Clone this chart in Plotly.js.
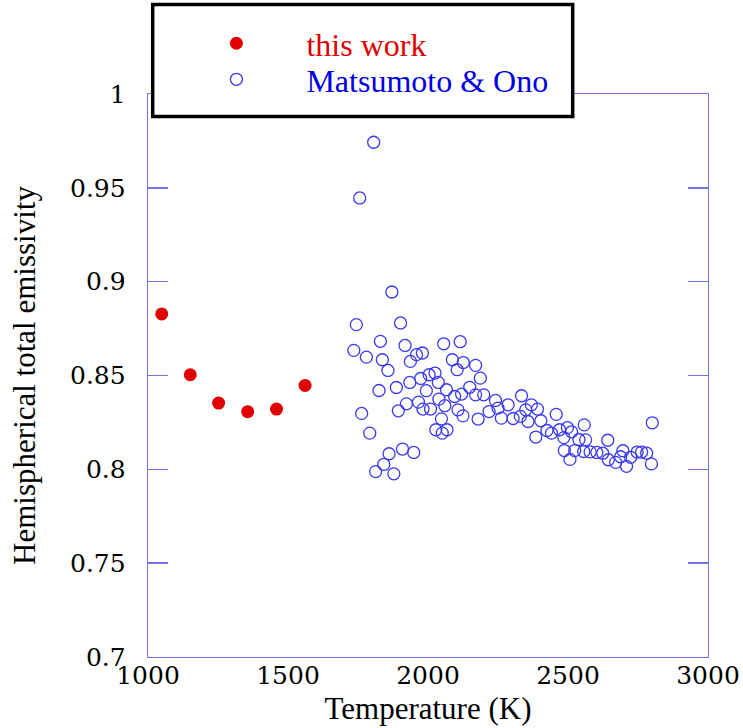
<!DOCTYPE html>
<html>
<head>
<meta charset="utf-8">
<script src="https://cdn.plot.ly/plotly-3.0.1.min.js"></script>
<style>
html, body { margin: 0; padding: 0; background: #ffffff; }
#chart { width: 743px; height: 728px; }
</style>
</head>
<body>
<div id="chart"></div>
<script>
// ---- data ----
const thisWorkT = [1049, 1151, 1252, 1356, 1459, 1561];
const thisWorkE = [0.8828, 0.8504, 0.8353, 0.8307, 0.8321, 0.8447];

const moT = [
  1806, 1756, 1871,
  1744, 1902, 1830, 1735, 1780, 1918, 1837, 1857, 1937, 1959, 1980, 2056, 2115, 2087, 2126, 2104,
  1825, 1887, 1935, 1974, 2004, 2025, 2037, 1994, 2066, 2095, 2120, 2149,
  1763, 1923, 1894, 1966, 1982, 2009, 2039, 2060, 2107, 2125, 2048,
  1792, 2028, 2068, 2051, 1909, 1949, 1861, 1842, 1813, 1878,
  2170, 2187, 2170, 2199, 2179, 2218, 2241, 2250, 2286, 2262, 2304, 2330, 2334, 2369, 2349, 2391,
  2357, 2403, 2458, 2385, 2425, 2441, 2470, 2498, 2485, 2513, 2539, 2487, 2524, 2507,
  2558, 2563, 2642, 2556, 2579, 2603, 2624, 2644, 2670, 2688, 2696, 2709, 2724, 2747, 2763, 2781,
  2798, 2801
];
const moE = [
  0.9743, 0.9446, 0.8945,
  0.8771, 0.8780, 0.8682, 0.8634, 0.8598, 0.8660, 0.8584, 0.8527, 0.8575, 0.8611, 0.8620, 0.8669, 0.8680, 0.8584, 0.8569, 0.8531,
  0.8420, 0.8436, 0.8463, 0.8484, 0.8504, 0.8513, 0.8463, 0.8419, 0.8424, 0.8388, 0.8401, 0.8437,
  0.8298, 0.8349, 0.8312, 0.8358, 0.8321, 0.8321, 0.8374, 0.8339, 0.8317, 0.8285, 0.8269,
  0.8193, 0.8211, 0.8211, 0.8193, 0.8108, 0.8090, 0.8083, 0.8026, 0.7988, 0.7976,
  0.8554, 0.8486, 0.8397, 0.8397, 0.8268, 0.8308, 0.8367, 0.8326, 0.8344, 0.8273, 0.8271, 0.8282, 0.8392, 0.8344, 0.8317, 0.8321,
  0.8255, 0.8259, 0.8293, 0.8172, 0.8207, 0.8193, 0.8211, 0.8222, 0.8169, 0.8200, 0.8159, 0.8100, 0.8100, 0.8053,
  0.8237, 0.8157, 0.8155, 0.8095, 0.8093, 0.8090, 0.8086, 0.8051, 0.8037, 0.8067, 0.8099, 0.8016, 0.8064, 0.8092, 0.8092, 0.8086,
  0.8029, 0.8248
];

const xTickVals = [1000, 1500, 2000, 2500, 3000];
const xTickText = ['1000', '1500', '2000', '2500', '3000'];
const yTickVals = [0.7, 0.75, 0.8, 0.85, 0.9, 0.95, 1.0];
const yTickText = ['0.7', '0.75', '0.8', '0.85', '0.9', '0.95', '1'];

const seriesNames = ['this work', 'Matsumoto &amp; Ono'];

// ---- styles ----
const FONT = 'Liberation Serif';
const TICK_FONT = 'DejaVu Serif';
const AXIS_COLOR = '#7474ec';
const RED = '#e00000';
const BLUE = '#0000e0';

const traces = [
  {
    x: thisWorkT, y: thisWorkE, type: 'scatter', mode: 'markers',
    name: '<span style="color:' + RED + '">' + seriesNames[0] + '</span>',
    marker: { symbol: 'circle', size: 13, color: RED },
    legend: 'legend', cliponaxis: false
  },
  {
    x: moT, y: moE, type: 'scatter', mode: 'markers',
    name: '<span style="color:' + BLUE + '">' + seriesNames[1] + '</span>',
    marker: { symbol: 'circle-open', size: 12, color: '#3a3af0', line: { width: 1.3 } },
    legend: 'legend2', cliponaxis: false
  }
];

const legendCommon = {
  xanchor: 'left', yanchor: 'middle',
  bgcolor: 'rgba(0,0,0,0)', borderwidth: 0,
  font: { family: FONT, size: 32, color: '#000000' },
  itemwidth: 130
};

const layout = {
  width: 743, height: 728,
  margin: { l: 148, r: 35, t: 94, b: 71 },
  paper_bgcolor: '#ffffff', plot_bgcolor: '#ffffff',
  font: { family: FONT, size: 30, color: '#000000' },
  xaxis: {
    range: [1000, 3000], tickmode: 'array', tickvals: xTickVals, ticktext: xTickText,
    showline: true, linecolor: AXIS_COLOR, linewidth: 1.3, mirror: true,
    ticks: '', showgrid: false, zeroline: false,
    tickfont: { family: TICK_FONT, size: 25, color: '#000000' },
    ticklabelstandoff: -4,
    title: { text: 'Temperature (K)', font: { family: FONT, size: 31, color: '#000000' }, standoff: 8 }
  },
  yaxis: {
    range: [0.7, 1.0], tickmode: 'array', tickvals: yTickVals, ticktext: yTickText,
    showline: true, linecolor: AXIS_COLOR, linewidth: 1.3, mirror: 'ticks',
    ticks: 'inside', ticklen: 20, tickwidth: 1.5, tickcolor: AXIS_COLOR,
    showgrid: false, zeroline: false,
    tickfont: { family: TICK_FONT, size: 25, color: '#000000' },
    ticklabelstandoff: 16,
    title: { text: 'Hemispherical total emissivity', font: { family: FONT, size: 31, color: '#000000' }, standoff: 25 }
  },
  showlegend: true,
  legend: Object.assign({}, legendCommon, { x: (166.7 - 148.3) / 560, y: (657 - 44) / 562.5 }),
  legend2: Object.assign({}, legendCommon, { x: (166.7 - 148.3) / 560, y: (657 - 80) / 562.5 }),
  shapes: [
    {
      type: 'rect', xref: 'paper', yref: 'paper', layer: 'above',
      x0: (153 - 148.3) / 560, x1: (573 - 148.3) / 560,
      y0: (657 - 117) / 562.5, y1: (657 - 5) / 562.5,
      fillcolor: '#ffffff', line: { color: '#000000', width: 3.5 }
    }
  ]
};

Plotly.newPlot('chart', traces, layout, { staticPlot: true, displayModeBar: false });
</script>
</body>
</html>
